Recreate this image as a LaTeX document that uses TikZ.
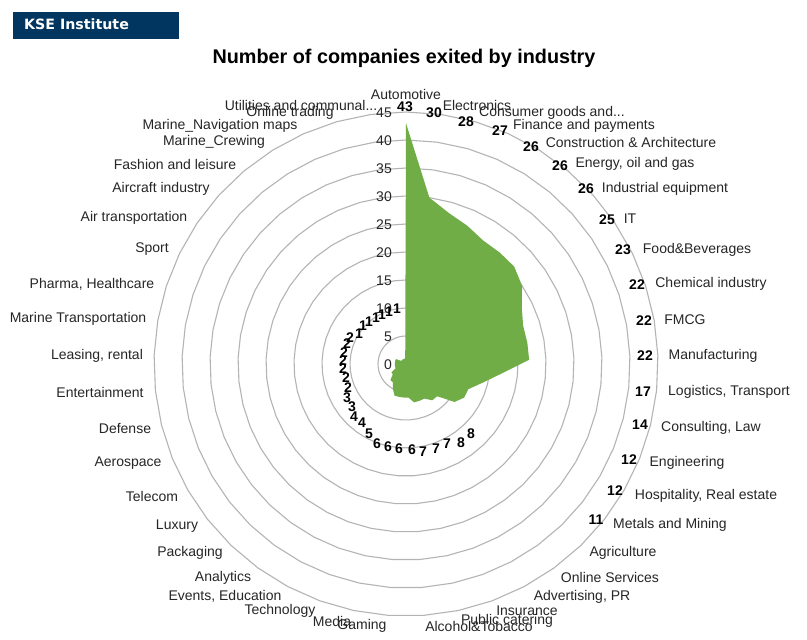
\documentclass[tikz,border=0pt]{standalone}
\usepackage{fontspec}
\setmainfont{Liberation Sans}
\newfontfamily\logofont{DejaVu Sans}
\definecolor{ringgray}{HTML}{B4B4B4}
\definecolor{areagreen}{HTML}{70AD47}
\definecolor{logoblue}{HTML}{003660}
\definecolor{labeltext}{HTML}{262626}
\tikzset{
  catlabel/.style={inner sep=0pt,yshift=-1.2pt,text=labeltext,font=\fontsize{14}{16}\selectfont},
  vallabel/.style={inner sep=0pt,yshift=-0.6pt,text=black,font=\fontsize{14}{16}\selectfont\bfseries},
  axlabel/.style={inner sep=0pt,anchor=east,yshift=-0.8pt,text=labeltext,font=\fontsize{14}{16}\selectfont},
  ring/.style={draw=ringgray,line width=1.1pt,line join=round},
}
\def\vals{{43,30,28,27,26,26,26,25,23,22,22,22,17,14,12,12,11,8,8,7,7,7,6,6,6,6,5,4,4,3,3,2,2,2,2,2,2,2,1,1,1,1,1,1,1}}
\begin{document}
\begin{tikzpicture}[x=1pt,y=-1pt]
\useasboundingbox (0,0) rectangle (807,640);
\fill[white] (0,0) rectangle (807,640);
% logo and title
\node[fill=logoblue,minimum width=166pt,minimum height=27pt,inner sep=0pt] (logo) at (96,25.5) {};
\node[inner sep=0pt,anchor=west,text=white,font=\logofont\fontsize{14.2}{16}\selectfont\bfseries] (logotext) at (24,24.5) {KSE Institute};
\node[inner sep=0pt,font=\fontsize{19.8}{24}\selectfont\bfseries] (title) at (404,58) {Number of companies exited by industry};
% rings
\foreach \r in {5,10,...,45}{
  \draw[ring] plot[samples at={0,8,...,352}] ({406+5.6*\r*sin(\x)},{364-5.6*\r*cos(\x)}) -- cycle;
}
% area
\fill[areagreen] plot[samples at={0,...,44}] ({406+5.6*\vals[int(\x)]*sin(8*\x)},{364-5.6*\vals[int(\x)]*cos(8*\x)}) -- cycle;
% axis labels
\foreach \v/\yy in {0/364,5/336,10/308,15/280,20/252,25/224,30/196,35/168,40/140,45/112}{
  \node[axlabel] (ax\v) at (392,\yy) {\v};
}
% category labels
\foreach \n/\cx/\cy/\t in {
 c1/406/93/Automotive, c2/477/104/Electronics, c3/552/112/{Consumer goods and...}, c4/584/125/Finance and payments,
 c5/631/141/Construction \& Architecture, c6/635/163/{Energy, oil and gas}, c7/665/188/Industrial equipment,
 c8/630/217/IT, c9/697/249/Food\&Beverages, c10/711/283/Chemical industry, c11/685/318/FMCG, c12/713/355/Manufacturing,
 c13/729/391/{Logistics, Transport}, c14/711/427/{Consulting, Law}, c15/687/462/Engineering, c16/706/495/{Hospitality, Real estate},
 c17/670/524/Metals and Mining, c18/623/552/Agriculture, c19/610/576/Online Services, c20/582/596/{Advertising, PR},
 c21/527/610/Insurance, c22/507/620/Public catering, c23/479/625/Alcohol\&Tobacco, c24/362/625/Gaming, c25/332/620/Media,
 c26/280/610/Technology, c27/225/595/{Events, Education}, c28/223/577/Analytics, c29/190/552/Packaging, c30/177/525/Luxury,
 c31/152/495/Telecom, c32/128/462/Aerospace, c33/125/427/Defense, c34/100/391/Entertainment, c35/97/355/{Leasing, rental},
 c36/78/318/Marine Transportation, c37/92/283/{Pharma, Healthcare}, c38/152/248/Sport, c39/134/217/Air transportation,
 c40/161/188/Aircraft industry, c41/175/163/Fashion and leisure, c42/214/141/Marine\_Crewing, c43/220/125/Marine\_Navigation maps,
 c44/290/112/Online trading, c45/301/104/{Utilities and communal...}}{
  \node[catlabel] (\n) at (\cx,\cy) {\t};
}
% value labels
\foreach \n/\cx/\cy/\t in {
 v1/405/106/43, v2/434/112/30, v3/466/121/28, v4/500/130/27, v5/531/146/26, v6/560/165/26, v7/586/188/26, v8/607/219/25,
 v9/623/249/23, v10/637/284/22, v11/644/320/22, v12/645/355/22, v13/643/391/17, v14/640/424/14, v15/629/459/12, v16/615/490/12,
 v17/596/519/11, v18/471/433/8, v19/461/442/8, v20/447/443/7, v21/436/448/7, v22/423/451/7, v23/412/449/6, v24/399/448/6,
 v25/388/446/6, v26/377/443/6, v27/369/433/5, v28/362/422/4, v29/354/416/4, v30/352/406/3, v31/347/397/3, v32/348/387/2,
 v33/346/377/2, v34/343/368/2, v35/343/360/2, v36/344/352/2, v37/347/343/2, v38/350/337/2, v39/359/333/1, v40/363/325/1,
 v41/369/321/1, v42/376/317/1, v43/382/314/1, v44/389/311/1, v45/397/308/1}{
  \node[vallabel] (\n) at (\cx,\cy) {\t};
}
\end{tikzpicture}
\end{document}
